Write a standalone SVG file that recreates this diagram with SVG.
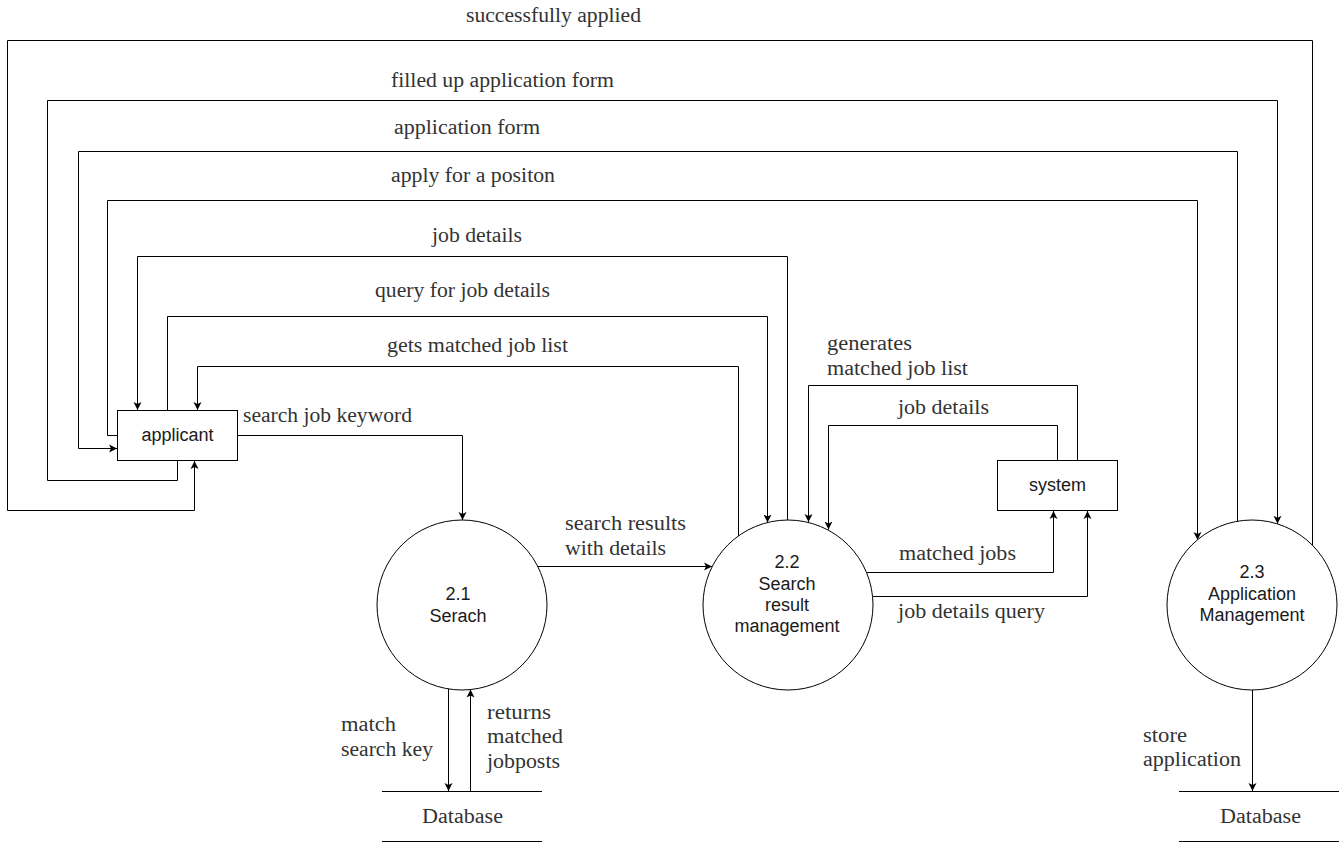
<svg xmlns="http://www.w3.org/2000/svg" width="1343" height="844" viewBox="0 0 1343 844">
<style>
.edge{fill:none;stroke:#000;stroke-width:1;marker-end:url(#arr)}
.line{fill:none;stroke:#000;stroke-width:1}
.shape{fill:#fff;stroke:#000;stroke-width:1}
.lbl{font-family:"Liberation Serif","Times New Roman",serif;font-size:20.5px;fill:#333}
.ntxt{font-family:"Liberation Sans",Arial,sans-serif;font-size:18px;fill:#1a1a1a;text-anchor:middle}
</style>
<defs>
<marker id="arr" markerUnits="userSpaceOnUse" markerWidth="10" markerHeight="10" refX="8" refY="4.5" orient="auto">
<path d="M0,0.5 L8,4.5 L0,8.5 L2,4.5 Z" fill="#000"/>
</marker>
</defs>
<rect width="1343" height="844" fill="#fff"/>
<g id="connectors">
<path class="edge" d="M1312.5,545 V40.5 H7.5 V510.5 H194.5 V461"/>
<path class="edge" d="M177.5,461 V480.5 H47.5 V100.5 H1277.5 V523.8"/>
<path class="edge" d="M1237.5,521.3 V151.5 H78.5 V448.5 H117"/>
<path class="edge" d="M117,435.5 H107.5 V200.5 H1197.5 V540"/>
<path class="edge" d="M787.5,520 V256.5 H137.5 V410"/>
<path class="edge" d="M167.5,410 V316.5 H767.5 V522.5"/>
<path class="edge" d="M738.5,536 V366.5 H197.5 V410"/>
<path class="edge" d="M238,435.5 H462.5 V520"/>
<path class="edge" d="M537.5,566.5 H712"/>
<path class="edge" d="M1077.5,460 V385.5 H808.5 V522"/>
<path class="edge" d="M1057.5,460 V425.5 H828.5 V529.5"/>
<path class="edge" d="M866.3,572.5 H1053.5 V511"/>
<path class="edge" d="M872.5,596.5 H1087.5 V511"/>
<path class="edge" d="M448.5,689 V791"/>
<path class="edge" d="M470.5,791 V689.5"/>
<path class="edge" d="M1252.5,690 V791"/>
</g>
<g id="edge-labels">
<text class="lbl" x="466" y="22" textLength="175" lengthAdjust="spacingAndGlyphs">successfully applied</text>
<text class="lbl" x="391" y="87" textLength="223" lengthAdjust="spacingAndGlyphs">filled up application form</text>
<text class="lbl" x="394" y="134" textLength="146" lengthAdjust="spacingAndGlyphs">application form</text>
<text class="lbl" x="391" y="182" textLength="164" lengthAdjust="spacingAndGlyphs">apply for a positon</text>
<text class="lbl" x="432" y="242" textLength="90" lengthAdjust="spacingAndGlyphs">job details</text>
<text class="lbl" x="375" y="297" textLength="175" lengthAdjust="spacingAndGlyphs">query for job details</text>
<text class="lbl" x="387" y="352" textLength="181" lengthAdjust="spacingAndGlyphs">gets matched job list</text>
<text class="lbl" x="243" y="422" textLength="169" lengthAdjust="spacingAndGlyphs">search job keyword</text>
<text class="lbl" x="565" y="530" textLength="121" lengthAdjust="spacingAndGlyphs">search results</text>
<text class="lbl" x="565" y="555" textLength="101" lengthAdjust="spacingAndGlyphs">with details</text>
<text class="lbl" x="827" y="350" textLength="85" lengthAdjust="spacingAndGlyphs">generates</text>
<text class="lbl" x="827" y="375" textLength="141" lengthAdjust="spacingAndGlyphs">matched job list</text>
<text class="lbl" x="898" y="414" textLength="91" lengthAdjust="spacingAndGlyphs">job details</text>
<text class="lbl" x="899" y="560" textLength="117" lengthAdjust="spacingAndGlyphs">matched jobs</text>
<text class="lbl" x="898" y="618" textLength="147" lengthAdjust="spacingAndGlyphs">job details query</text>
<text class="lbl" x="341" y="731" textLength="55" lengthAdjust="spacingAndGlyphs">match</text>
<text class="lbl" x="341" y="756" textLength="92" lengthAdjust="spacingAndGlyphs">search key</text>
<text class="lbl" x="487" y="719" textLength="64" lengthAdjust="spacingAndGlyphs">returns</text>
<text class="lbl" x="487" y="743" textLength="76" lengthAdjust="spacingAndGlyphs">matched</text>
<text class="lbl" x="487" y="768" textLength="73" lengthAdjust="spacingAndGlyphs">jobposts</text>
<text class="lbl" x="1143" y="742" textLength="44" lengthAdjust="spacingAndGlyphs">store</text>
<text class="lbl" x="1143" y="766" textLength="98" lengthAdjust="spacingAndGlyphs">application</text>
</g>
<g id="applicant">
<rect class="shape" x="117.5" y="410.5" width="120" height="50"/>
<text class="ntxt" x="177.5" y="441">applicant</text>
</g>
<g id="system">
<rect class="shape" x="997.5" y="460.5" width="120" height="50"/>
<text class="ntxt" x="1057.5" y="491">system</text>
</g>
<g id="p2-1">
<circle class="shape" cx="462" cy="605" r="85"/>
<text class="ntxt" x="458" y="600">2.1</text>
<text class="ntxt" x="458" y="621.5">Serach</text>
</g>
<g id="p2-2">
<circle class="shape" cx="788" cy="605" r="85"/>
<text class="ntxt" x="787" y="568">2.2</text>
<text class="ntxt" x="787" y="589.5">Search</text>
<text class="ntxt" x="787" y="611">result</text>
<text class="ntxt" x="787" y="632">management</text>
</g>
<g id="p2-3">
<circle class="shape" cx="1252" cy="605" r="85"/>
<text class="ntxt" x="1252" y="578">2.3</text>
<text class="ntxt" x="1252" y="599.5">Application</text>
<text class="ntxt" x="1252" y="621">Management</text>
</g>
<g id="db1">
<path class="line" d="M382,791.5 H542 M382,841.5 H542"/>
<text class="lbl" x="422" y="823" textLength="81" lengthAdjust="spacingAndGlyphs">Database</text>
</g>
<g id="db2">
<path class="line" d="M1179,791.5 H1339 M1179,841.5 H1339"/>
<text class="lbl" x="1220" y="823" textLength="81" lengthAdjust="spacingAndGlyphs">Database</text>
</g>
</svg>
